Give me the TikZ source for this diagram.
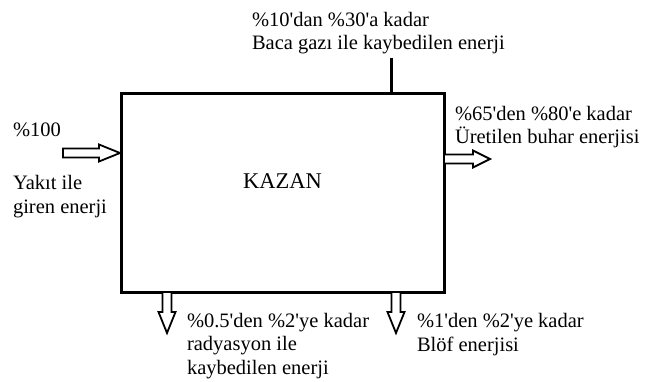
\documentclass[tikz,border=0pt]{standalone}
\usepackage{fontspec}
\setmainfont{Liberation Serif}[Ligatures=TeXOff]
\begin{document}
\begin{tikzpicture}[x=1pt,y=-1pt,
  every node/.style={inner sep=0pt, outer sep=0pt},
  lbl/.style={anchor=base west, align=left, font=\fontsize{20.5}{23.5}\selectfont},
  frame/.style={draw, line width=3pt, minimum width=323pt, minimum height=198pt},
  hollow/.style={draw, line width=1.8pt, fill=white, line join=miter},
  pics/harrow/.style n args={2}{code={
    \draw[hollow] (0,-4.5) -- ({#1-#2},-4.5) -- ({#1-#2},-8.5) -- (#1,0)
      -- ({#1-#2},8.5) -- ({#1-#2},4.5) -- (0,4.5) -- cycle;}}]
\useasboundingbox (0,0) rectangle (647,382);

% boiler body
\node[frame] (kazan) at (282.5,193) {};
\node[anchor=base, font=\fontsize{22.5}{27}\selectfont] (title) at (282.5,189) {KAZAN};

% flue gas stack
\coordinate (stack) at (391,58);
\draw[line width=3pt] (stack) -- (stack |- kazan.north);

% energy flows
\pic at (63,153) {harrow={57}{21}};
\pic at (444,159) {harrow={46}{17}};
\pic[rotate=-90] at (167,292) {harrow={41}{21}};
\pic[rotate=-90] at (396,292) {harrow={41}{21}};

% labels (anchored at the baseline of their last line)
\node[lbl] (flue) at (252,50) {\%10'dan \%30'a kadar\\Baca gazı ile kaybedilen enerji};
\node[lbl] (fuelpct) at (13,137) {\%100};
\node[lbl] (fuel) at (13,213) {Yakıt ile\\giren enerji};
\node[lbl] (steam) at (455,144) {\%65'den \%80'e kadar\\Üretilen buhar enerjisi};
\node[lbl] (rad) at (187,374) {\%0.5'den \%2'ye kadar\\radyasyon ile\\kaybedilen enerji};
\node[lbl] (blow) at (417,351) {\%1'den \%2'ye kadar\\Blöf enerjisi};
\end{tikzpicture}
\end{document}
